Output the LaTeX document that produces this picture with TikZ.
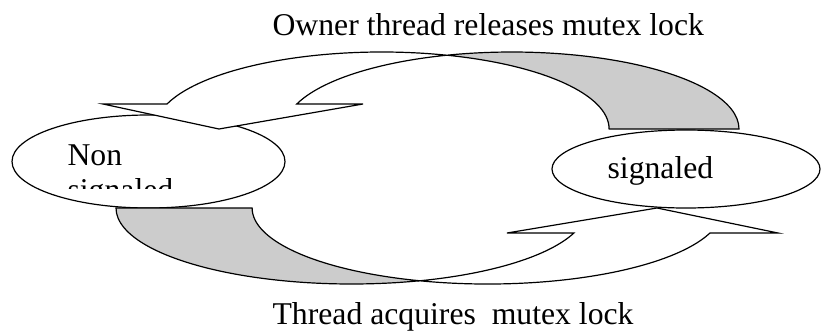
\documentclass[tikz,border=0pt]{standalone}
\usepackage{fontspec}
\setmainfont{Liberation Serif}
\usetikzlibrary{shapes.geometric}
\definecolor{backband}{gray}{0.8}

\begin{document}
\begin{tikzpicture}[
    x=1pt, y=-1pt,
    line width=1.2pt,
    oval/.style = {draw, ellipse, fill=white, inner sep=0},
    msg/.style = {anchor=base west, inner sep=0, font=\fontsize{31.7}{36}\selectfont},
    front/.style = {draw, fill=white},
    back/.style = {draw, fill=backband}
  ]
  \useasboundingbox (0,0) rectangle (821,330);

  % states
  \node[oval, minimum width=273pt, minimum height=93pt] (nonsig) at (148.5,161.5) {};
  \node[oval, minimum width=268pt, minimum height=78pt] (sig) at (686,169) {};
  \node[msg] (signame) at (607,178) {signaled};
  \begin{scope}
    \clip (60,140) rectangle (270,188.5);
    \node[msg] (nonname) at (67,165) {Non};
    \node[msg] (nonname2) at (67,200.6) {signaled};
  \end{scope}

  % upper arrow: owner releases the lock
  \coordinate (relx) at (446.8,55.2);
  \coordinate (relhead) at (219,129);
  \draw[back] (relx) arc[start angle=286.6, end angle=360, x radius=227.2, y radius=77]
    -- (739,129) arc[start angle=0, end angle=-106.6, x radius=227.2, y radius=77] -- cycle;
  \draw[front] (167,104) arc[start angle=198.95, end angle=286.6, x radius=227.2, y radius=77]
    arc[start angle=253.4, end angle=198.95, x radius=227.2, y radius=77]
    -- (363,104) -- (relhead) -- (103,104) -- cycle;

  % lower arrow: thread acquires the lock
  \coordinate (acqx) at (419.5,280.8);
  \coordinate (acqhead) at (657,208);
  \draw[back] (116,208) arc[start angle=180, end angle=73.2, x radius=235.5, y radius=76]
    arc[start angle=106.8, end angle=180, x radius=235.5, y radius=76] -- cycle;
  \draw[front] (acqx) arc[start angle=73.2, end angle=19.2, x radius=235.5, y radius=76]
    -- (507,233) -- (acqhead) -- (778,233) -- (710,233)
    arc[start angle=19.2, end angle=106.8, x radius=235.5, y radius=76] -- cycle;

  \node[msg] (release) at (272,35) {Owner thread releases mutex lock};
  \node[msg] (acquire) at (272,324) {Thread acquires\ \ mutex lock};
\end{tikzpicture}
\end{document}
